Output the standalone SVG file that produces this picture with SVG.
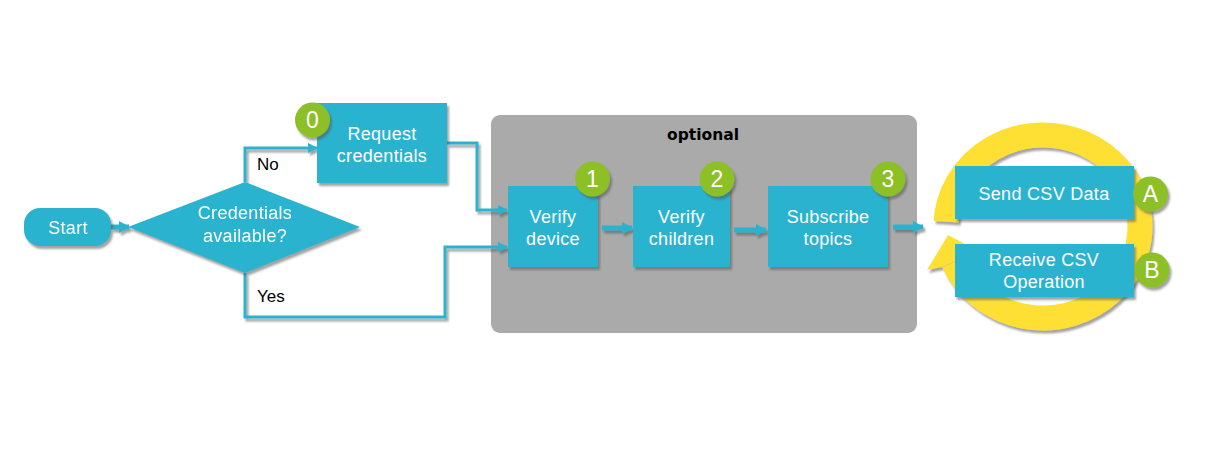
<svg xmlns="http://www.w3.org/2000/svg" width="1208" height="456" viewBox="0 0 1208 456">
  <defs>
    <filter id="sh" x="-10%" y="-10%" width="130%" height="130%">
      <feDropShadow dx="2" dy="3" stdDeviation="0.8" flood-color="#555" flood-opacity="0.55"/>
    </filter>
    <marker id="ah" markerUnits="userSpaceOnUse" markerWidth="10" markerHeight="10" refX="9" refY="5" orient="auto">
      <path d="M0,0 L10,5 L0,10 z" fill="#29b3cf"/>
    </marker>
    <marker id="ahb" markerUnits="userSpaceOnUse" markerWidth="11" markerHeight="12" refX="10" refY="6" orient="auto">
      <path d="M0,0 L11,6 L0,12 z" fill="#29b3cf"/>
    </marker>
    <style>
      .box { fill: #29b3cf; }
      .badge { fill: #8cc026; }
      .lbl { font-family: "Liberation Sans", Arial, sans-serif; font-size: 18px; fill: #ffffff; text-anchor: middle; letter-spacing: 0.3px; }
      .num { font-family: "Liberation Sans", Arial, sans-serif; font-size: 23px; fill: #ffffff; text-anchor: middle; }
      .edge { font-family: "Liberation Sans", Arial, sans-serif; font-size: 17px; fill: #000000; }
      .ln { fill: none; stroke: #29b3cf; stroke-width: 3; marker-end: url(#ah); }
      .lnb { fill: none; stroke: #29b3cf; stroke-width: 5; marker-end: url(#ahb); }
    </style>
  </defs>
  <rect width="1208" height="456" fill="#ffffff"/>

  <g id="optional-group">
    <rect x="491" y="115" width="426" height="218" rx="9" fill="#aaaaaa"/>
    <text x="703" y="140" font-family="DejaVu Sans, Verdana, sans-serif" font-weight="bold" font-size="15.5" text-anchor="middle" fill="#000000">optional</text>
  </g>

  <g id="loop-ring" filter="url(#sh)">
    <path d="M946.1,221.7 A97,91.5 0 1 1 953.7,262.3" fill="none" stroke="#fee035" stroke-width="25"/>
    <polygon points="948,235 927,270 942,267 965,257 978,251" fill="#fee035"/>
  </g>

  <g id="connectors" filter="url(#sh)">
    <path class="lnb" d="M111,227 L129,227"/>
    <path class="ln" d="M245,182 L245,148 L317,148"/>
    <path class="ln" d="M245,273 L245,317 L445,317 L445,247 L507,247"/>
    <path class="ln" d="M447,143 L477,143 L477,210 L507,210"/>
    <path class="lnb" d="M602,228 L632,228"/>
    <path class="lnb" d="M734,230 L766,230"/>
    <path class="lnb" d="M893,227 L923,227"/>
  </g>

  <g id="start" filter="url(#sh)">
    <rect class="box" x="24" y="208" width="87" height="38" rx="16"/>
    <text class="lbl" x="68" y="234">Start</text>
  </g>

  <g id="decision" filter="url(#sh)">
    <polygon class="box" points="128,227 245,182 360,227 245,273"/>
    <text class="lbl" x="245" y="219">Credentials</text>
    <text class="lbl" x="245" y="242">available?</text>
  </g>

  <g id="edge-labels">
    <text class="edge" x="257" y="170">No</text>
    <text class="edge" x="257" y="302">Yes</text>
  </g>

  <g id="request-credentials">
    <rect class="box" x="317" y="103" width="130" height="80" filter="url(#sh)"/>
    <text class="lbl" x="382" y="140">Request</text>
    <text class="lbl" x="382" y="162">credentials</text>
    <circle class="badge" cx="312.5" cy="120" r="17.5" filter="url(#sh)"/>
    <text class="num" x="312.5" y="128">0</text>
  </g>

  <g id="verify-device">
    <rect class="box" x="508" y="186" width="90" height="81" filter="url(#sh)"/>
    <text class="lbl" x="553" y="223">Verify</text>
    <text class="lbl" x="553" y="245">device</text>
    <circle class="badge" cx="592.5" cy="179" r="17.5" filter="url(#sh)"/>
    <text class="num" x="592.5" y="187">1</text>
  </g>

  <g id="verify-children">
    <rect class="box" x="633" y="186" width="97" height="81" filter="url(#sh)"/>
    <text class="lbl" x="681.5" y="223">Verify</text>
    <text class="lbl" x="681.5" y="245">children</text>
    <circle class="badge" cx="717" cy="179" r="17.5" filter="url(#sh)"/>
    <text class="num" x="717" y="187">2</text>
  </g>

  <g id="subscribe-topics">
    <rect class="box" x="768" y="186" width="120" height="81" filter="url(#sh)"/>
    <text class="lbl" x="828" y="223">Subscribe</text>
    <text class="lbl" x="828" y="245">topics</text>
    <circle class="badge" cx="888" cy="179" r="17.5" filter="url(#sh)"/>
    <text class="num" x="888" y="187">3</text>
  </g>

  <g id="send-csv">
    <rect class="box" x="955" y="166" width="179" height="53" filter="url(#sh)"/>
    <text class="lbl" x="1044" y="200">Send CSV Data</text>
    <circle class="badge" cx="1150.5" cy="194" r="17.5" filter="url(#sh)"/>
    <text class="num" x="1150.5" y="202">A</text>
  </g>

  <g id="receive-csv">
    <rect class="box" x="955" y="244" width="179" height="53" filter="url(#sh)"/>
    <text class="lbl" x="1044" y="266">Receive CSV</text>
    <text class="lbl" x="1044" y="288">Operation</text>
    <circle class="badge" cx="1152" cy="270" r="17.5" filter="url(#sh)"/>
    <text class="num" x="1152" y="278">B</text>
  </g>
</svg>
